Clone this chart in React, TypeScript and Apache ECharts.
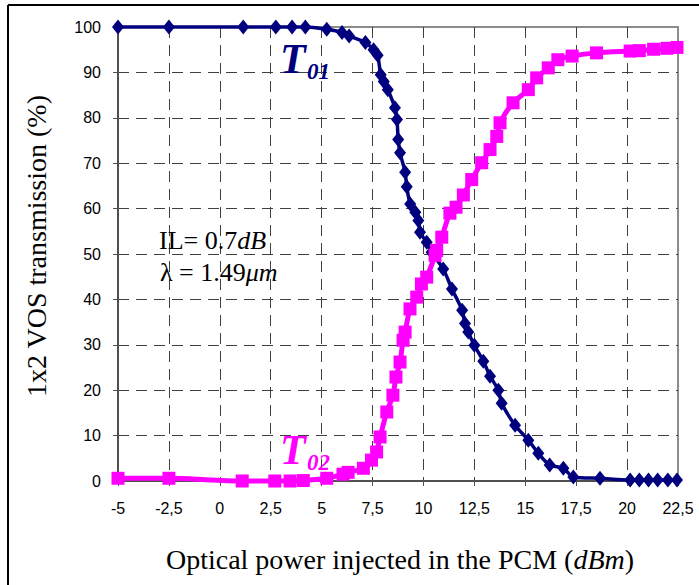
import React, { useEffect, useRef } from "react";
import * as echarts from "echarts";

// T01 (navy, diamonds)
const t01X = [-5, -2.5, 1.15, 2.75, 3.55, 4.2, 5.25, 6.0, 6.35, 7.15, 7.55, 7.75, 7.9, 8.05, 8.25, 8.6, 8.7, 8.76, 8.85, 9.1, 9.18, 9.35, 9.6, 9.75, 9.83, 10.16, 10.4, 10.97, 11.4, 11.9, 12.04, 12.2, 12.5, 12.94, 13.27, 13.68, 13.84, 14.5, 15.15, 15.64, 16.2, 16.87, 17.36, 18.67, 20.15, 20.6, 21.05, 21.5, 22.0, 22.45];
const t01Y = [100, 100, 100, 100, 100, 100, 99.5, 98.8, 98, 96.6, 95, 93.8, 89.5, 88, 86.2, 82.2, 79.6, 75.2, 72.3, 68, 64.8, 61, 59.2, 57.4, 54.8, 52.6, 50.4, 46.7, 42.3, 37.6, 34.7, 32.8, 29.9, 26.4, 23.1, 20, 17.1, 12.3, 9.0, 6.1, 3.5, 2.8, 0.9, 0.6, 0.2, 0.2, 0.2, 0.2, 0.2, 0.2];

// T02 (magenta, squares)
const t02X = [-5, -2.5, 1.1, 2.7, 3.45, 4.1, 5.25, 6.05, 6.3, 7.05, 7.45, 7.7, 7.87, 8.2, 8.5, 8.65, 8.85, 9.0, 9.1, 9.34, 9.67, 9.9, 10.16, 10.57, 10.65, 10.9, 11.3, 11.6, 11.96, 12.37, 12.86, 13.27, 13.6, 13.76, 14.4, 15.15, 15.56, 16.13, 16.6, 17.3, 18.5, 20.15, 20.6, 21.3, 21.95, 22.45];
const t02Y = [0.6, 0.6, 0, 0, 0, 0.1, 0.6, 1.5, 1.9, 2.8, 4.6, 6.4, 9.7, 15.2, 18.9, 22.9, 26.2, 31, 32.8, 37.9, 40.5, 43.4, 44.9, 49.7, 50.8, 53.7, 59, 60.3, 63, 66.4, 70.1, 73, 75.9, 78.9, 83.3, 86.2, 88.8, 91, 92.8, 93.6, 94.3, 94.7, 94.8, 95.1, 95.3, 95.5];

const xMin = -5;
const xMax = 22.5;
const xStep = 2.5;
const yMin = 0;
const yMax = 100;
const yStep = 10;

const xTitle = ["Optical power injected in the PCM (", "dBm", ")"];
const yTitle = "1x2 VOS transmission (%)";
const noteIL = ["IL= 0.7", "dB"];
const noteLambda = ["λ = 1.49", "μm"];

const NAVY = "#00007f";
const MAGENTA = "#ff00ff";
const SERIF = "Liberation Serif";
const SANS = "Liberation Sans";

export default function App() {
  const ref = useRef<HTMLDivElement>(null);

  useEffect(() => {
    const chart = echarts.init(ref.current!, null, { renderer: "svg" });
    const grid = "#404040";
    const axisCommon = {
      type: "value" as const,
      axisLine: { show: true, onZero: false, lineStyle: { color: "#505050", width: 2 } },
      axisTick: { show: true, length: 5, lineStyle: { color: "#505050", width: 1 } },
      splitLine: {
        show: true,
        showMinLine: false,
        showMaxLine: false,
        lineStyle: { type: [11, 7], color: grid, width: 1 },
      },
    };
    const notesRich = {
      n: { fontSize: 26, fontFamily: SERIF, fill: "#000" },
      i: { fontSize: 26, fontFamily: SERIF, fontStyle: "italic", fill: "#000" },
    };
    chart.setOption({
      animation: false,
      backgroundColor: "#ffffff",
      grid: {
        left: 118,
        right: 21,
        top: 27,
        bottom: 104,
        show: true,
        borderColor: "#8c8c8c",
        borderWidth: 2,
        backgroundColor: "transparent",
      },
      xAxis: {
        ...axisCommon,
        min: xMin,
        max: xMax,
        interval: xStep,
        axisLabel: {
          margin: 19,
          fontSize: 16,
          fontFamily: SANS,
          color: "#000",
          formatter: (v: number) => String(v).replace(".", ","),
        },
      },
      yAxis: {
        ...axisCommon,
        min: yMin,
        max: yMax,
        interval: yStep,
        axisLabel: {
          margin: 17,
          fontSize: 16,
          fontFamily: SANS,
          color: "#000",
        },
      },
      series: [
        {
          type: "line",
          name: "T01",
          data: t01X.map((x, i) => [x, t01Y[i]]),
          smooth: 0.3,
          symbol: "diamond",
          symbolSize: [12, 15],
          itemStyle: { color: NAVY },
          lineStyle: { color: NAVY, width: 3.5 },
          clip: false,
          z: 2,
        },
        {
          type: "line",
          name: "T02",
          data: t02X.map((x, i) => [x, t02Y[i]]),
          smooth: 0.3,
          symbol: "rect",
          symbolSize: 13,
          itemStyle: { color: MAGENTA },
          lineStyle: { color: MAGENTA, width: 5 },
          clip: false,
          z: 3,
        },
      ],
      graphic: [
        { type: "line", shape: { x1: 8, y1: 5, x2: 699, y2: 5 }, style: { stroke: "#000", lineWidth: 2 } },
        { type: "line", shape: { x1: 8, y1: 5, x2: 8, y2: 585 }, style: { stroke: "#000", lineWidth: 2 } },
        {
          type: "text", x: 280, y: 59, z: 10,
          style: { text: "T", fontSize: 42, fontFamily: SERIF, fontWeight: "bold", fontStyle: "italic", fill: NAVY, align: "left", verticalAlign: "middle" },
        },
        {
          type: "text", x: 307, y: 71, z: 10,
          style: { text: "01", fontSize: 23, fontFamily: SERIF, fontWeight: "bold", fontStyle: "italic", fill: NAVY, align: "left", verticalAlign: "middle" },
        },
        {
          type: "text", x: 280, y: 450, z: 10,
          style: { text: "T", fontSize: 42, fontFamily: SERIF, fontWeight: "bold", fontStyle: "italic", fill: MAGENTA, align: "left", verticalAlign: "middle" },
        },
        {
          type: "text", x: 307, y: 462, z: 10,
          style: { text: "02", fontSize: 23, fontFamily: SERIF, fontWeight: "bold", fontStyle: "italic", fill: MAGENTA, align: "left", verticalAlign: "middle" },
        },
        {
          type: "text", x: 159, y: 240, z: 10,
          style: {
            text: `{n|${noteIL[0]}}{i|${noteIL[1]}}`,
            align: "left", verticalAlign: "middle",
            rich: notesRich,
          },
        },
        {
          type: "text", x: 160, y: 272, z: 10,
          style: {
            text: `{n|${noteLambda[0]}}{i|${noteLambda[1]}}`,
            align: "left", verticalAlign: "middle",
            rich: notesRich,
          },
        },
        {
          type: "text", x: 400, y: 559, z: 10,
          style: {
            text: `{n|${xTitle[0]}}{i|${xTitle[1]}}{n|${xTitle[2]}}`,
            align: "center", verticalAlign: "middle",
            rich: {
              n: { fontSize: 28, fontFamily: SERIF, fill: "#000" },
              i: { fontSize: 28, fontFamily: SERIF, fontStyle: "italic", fill: "#000" },
            },
          },
        },
        {
          type: "text", x: 36, y: 246, rotation: Math.PI / 2, z: 10,
          style: { text: yTitle, fontSize: 28, fontFamily: SERIF, fill: "#000", align: "center", verticalAlign: "middle" },
        },
      ],
    });
    return () => chart.dispose();
  }, []);

  return (
    <div
      ref={ref}
      style={{ position: "fixed", left: 0, top: 0, width: 699, height: 585, background: "#fff" }}
    />
  );
}
